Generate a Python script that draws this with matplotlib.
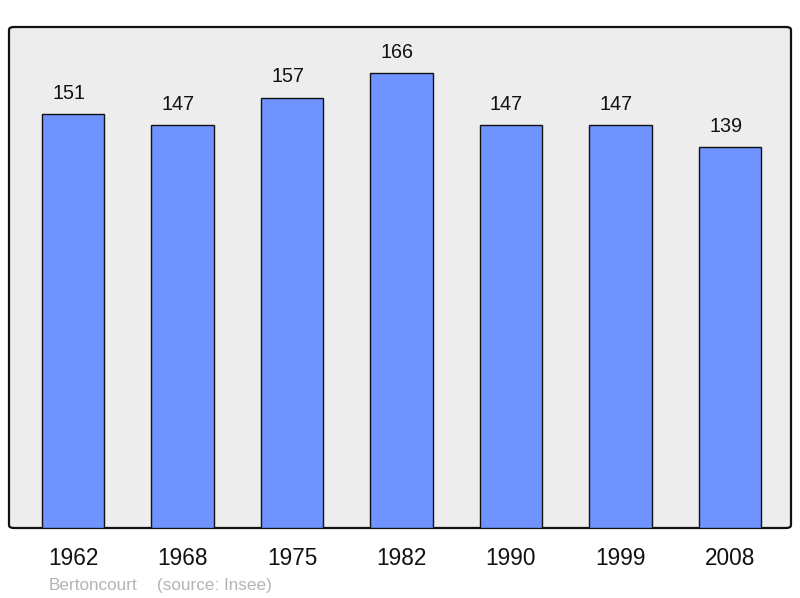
import matplotlib
matplotlib.use('Agg')
from matplotlib import pyplot as plt
from matplotlib.patches import FancyBboxPatch

years = ['1962', '1968', '1975', '1982', '1990', '1999', '2008']
population = [151, 147, 157, 166, 147, 147, 139]
commune = 'Bertoncourt'
source = '(source: Insee)'

plt.rcParams['font.family'] = ['Liberation Sans', 'DejaVu Sans']

fig = plt.figure(figsize=(8, 5.98), dpi=100)
# axes box in pixels: x 9..791, y 27..528
ax = fig.add_axes([9 / 800, 1 - 528 / 598, 782 / 800, 501 / 598])
ax.set_facecolor('none')

# rounded background frame
frame = FancyBboxPatch((0, 0), 1, 1, boxstyle='round,pad=0,rounding_size=0.006',
                       transform=ax.transAxes, facecolor='#ededed',
                       edgecolor='#111111', linewidth=1.6, zorder=0, clip_on=False)
ax.add_patch(frame)

x = range(len(years))
bars = ax.bar(x, population, width=0.57, color='#7094ff', edgecolor='#111111',
              linewidth=1.0, zorder=2)

for xi, val in zip(x, population):
    ax.annotate(str(val), (xi, val), xytext=(-3.2, 11), textcoords='offset points',
                ha='center', va='baseline', fontsize=14.2, color='#111111')

ax.set_xlim(-0.584, 6.557)
ax.set_ylim(0, 182.8)
ax.set_xticks(list(x))
ax.set_xticklabels(years, fontsize=16.3, color='#111111')
ax.tick_params(axis='x', length=0, pad=14)
ax.set_yticks([])
for s in ax.spines.values():
    s.set_visible(False)

fig.text(49 / 800, 1 - 590 / 598, commune, fontsize=12.3, color='#b4b4b4', va='baseline')
fig.text(157 / 800, 1 - 590 / 598, source, fontsize=12.3, color='#b4b4b4', va='baseline')

plt.savefig('out.png', dpi=100)
